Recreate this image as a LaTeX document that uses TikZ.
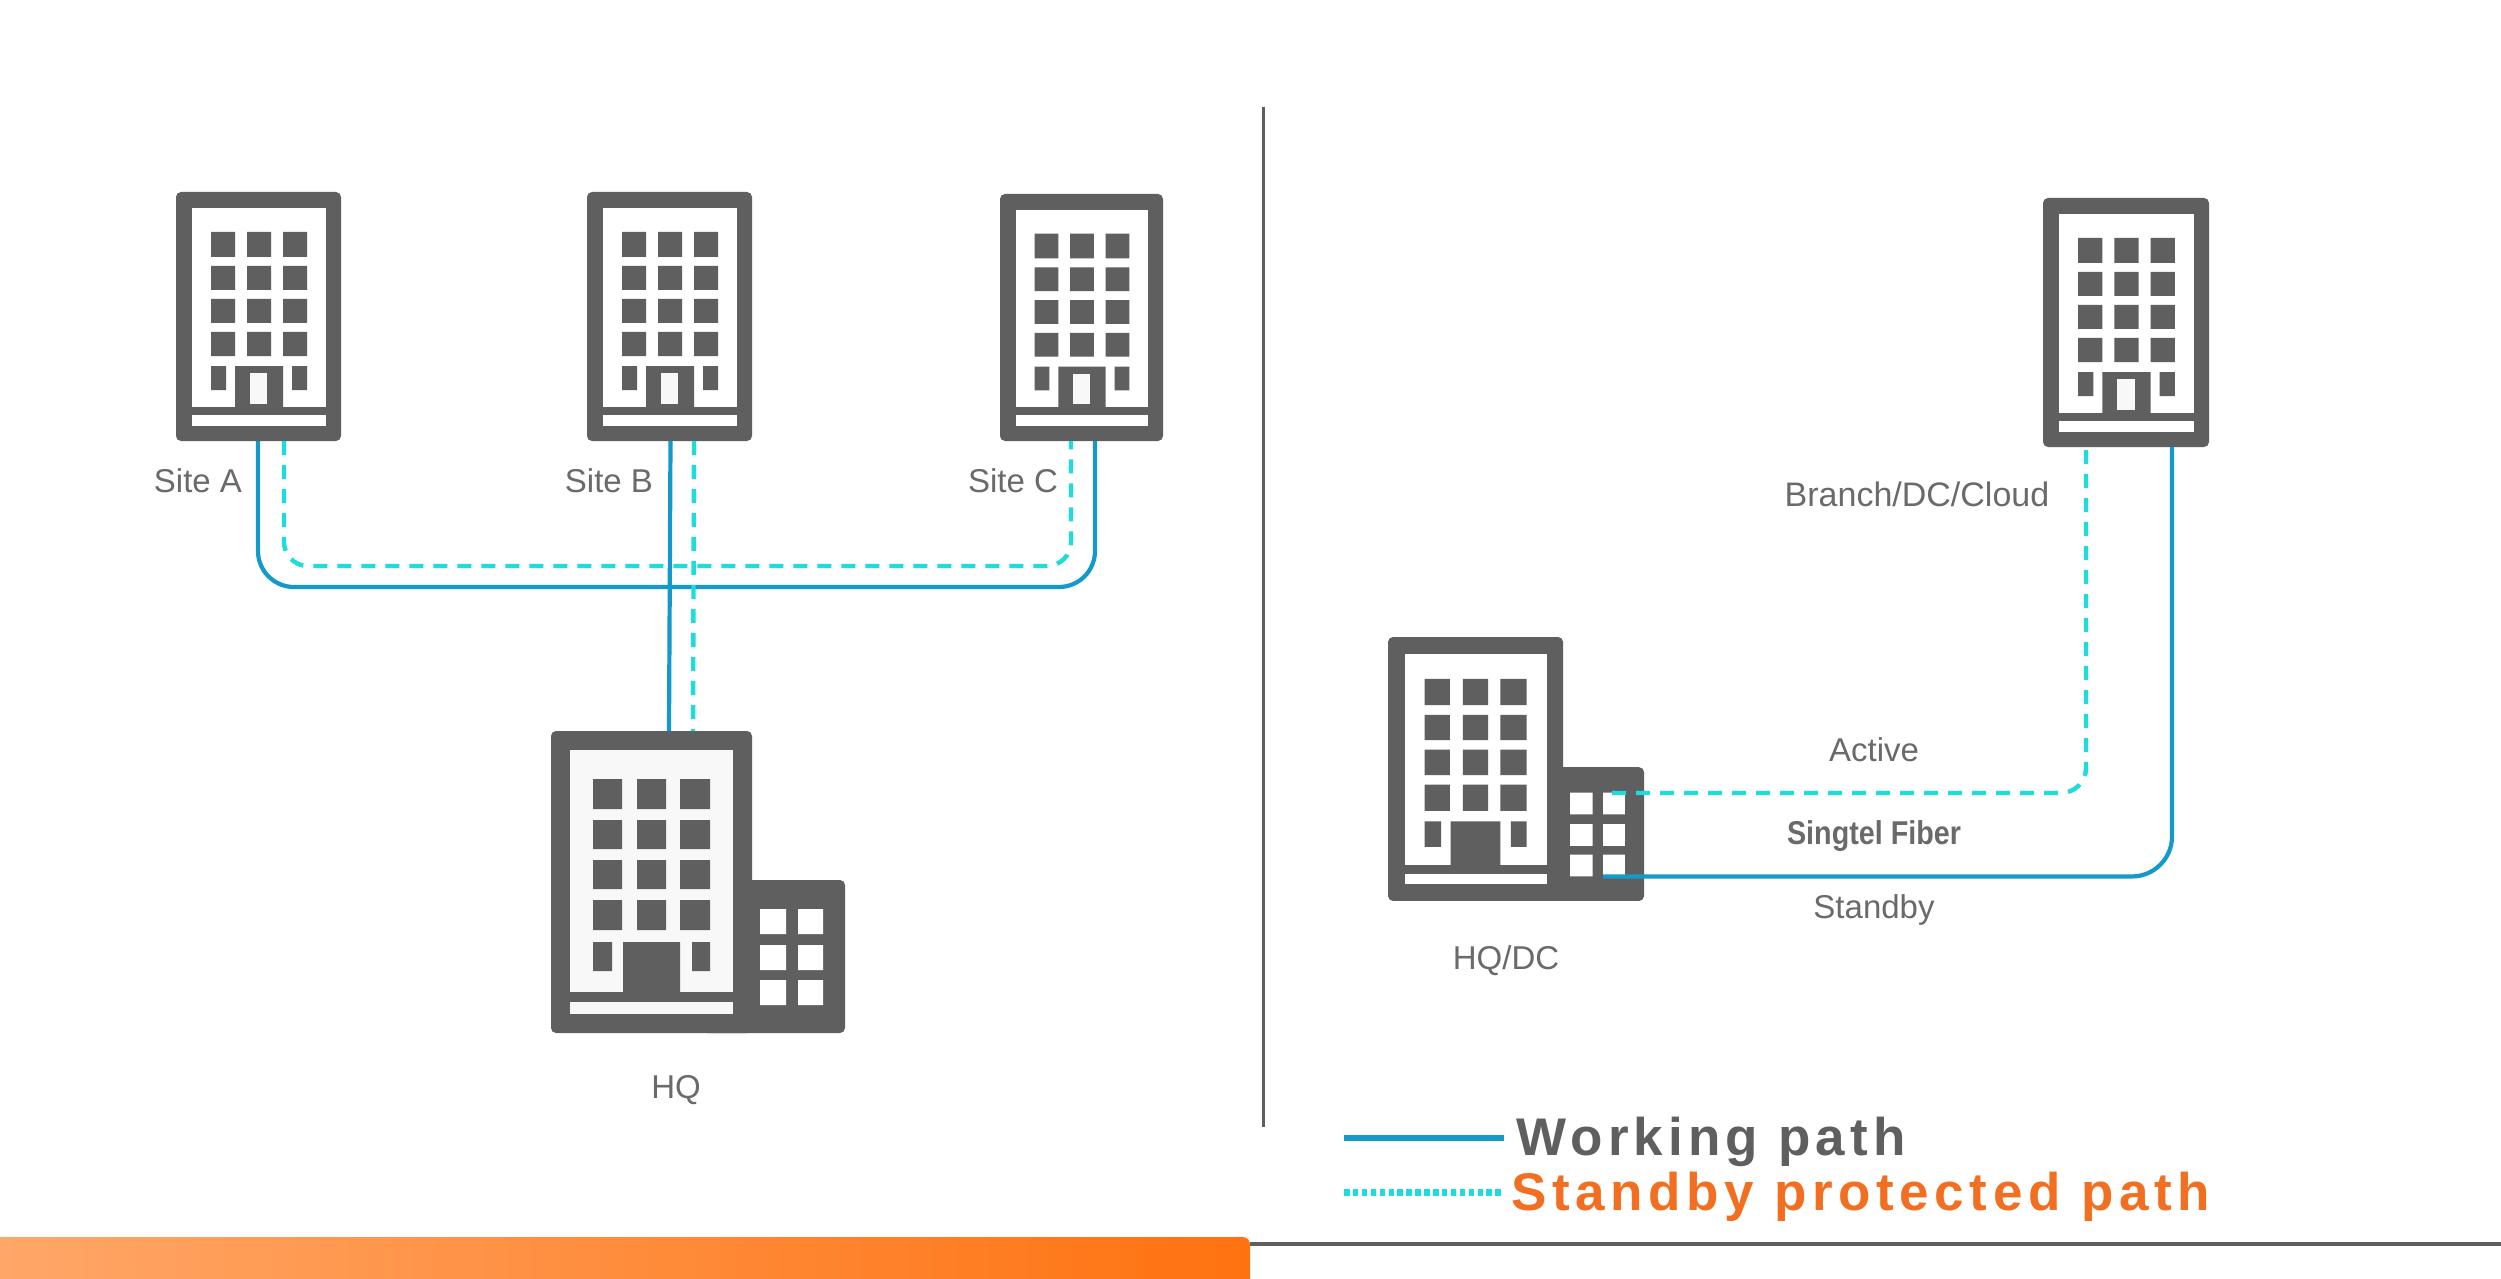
\documentclass[tikz,border=0pt]{standalone}
\usepackage{fontspec}
\setmainfont{Liberation Sans}
\newfontfamily\legendfonta[LetterSpace=9.8]{Liberation Sans Bold}
\newfontfamily\legendfontb[LetterSpace=10.6]{Liberation Sans Bold}
\definecolor{bgray}{HTML}{5F5F5F}
\definecolor{tgray}{HTML}{6A6A6A}
\definecolor{fillw}{HTML}{F8F8F8}
\definecolor{wpath}{HTML}{1499CB}
\definecolor{spath}{HTML}{1FDCDC}
\definecolor{otext}{HTML}{F26F21}
\definecolor{obarl}{HTML}{FFA768}
\definecolor{obarr}{HTML}{FF7210}
\tikzset{
  blk/.style={inner sep=0pt,outer sep=0pt,fill=bgray,anchor=north west,rounded corners=5pt},
  lbl/.style={anchor=base,inner sep=0pt,text=tgray,font=\fontsize{33}{36}\selectfont},
  working/.style={draw=wpath,line width=4.2pt,rounded corners=#1},
  working/.default=0pt,
  standby/.style={draw=spath,line width=4.4pt,dash pattern=on 14pt off 10pt,rounded corners=#1},
  standby/.default=0pt
}
% name, x, y, w, h
\newcommand{\towerbld}[5]{%
  \node[blk,minimum width=#4pt,minimum height=#5pt] (#1) at (#2,#3) {};
  \begin{scope}[shift={(#2,#3)},x=#4/165*1pt,y=-#5/249*1pt]
    \fill[white] (15.7,16) rectangle (149.7,215);
    \fill[white] (15.7,223) rectangle (149.7,234);
    \fill[bgray]
      (35,40) rectangle (59,65) (71,40) rectangle (95,65) (107,40) rectangle (131,65)
      (35,74) rectangle (59,98) (71,74) rectangle (95,98) (107,74) rectangle (131,98)
      (35,107) rectangle (59,131) (71,107) rectangle (95,131) (107,107) rectangle (131,131)
      (35,140) rectangle (59,164) (71,140) rectangle (95,164) (107,140) rectangle (131,164)
      (35,174) rectangle (50,198) (116,174) rectangle (131,198)
      (59,174) rectangle (107,215);
    \fill[fillw] (74,181) rectangle (91,212);
  \end{scope}}
% name, x, y, sx, sy, inner colour
\newcommand{\hqbld}[6]{%
  \node[blk,minimum width=#4*201pt,minimum height=#5*302pt] (#1) at (#2,#3) {};
  \begin{scope}[shift={(#2,#3)},x=#4*1pt,y=-#5*1pt]
    \node[blk,minimum width=#4*143pt,minimum height=#5*153pt] (#1x) at (151,149) {};
    \fill[bgray] (190,149) rectangle (210,302);
    \fill[#6] (19,19) rectangle (182,261);
    \fill[#6] (19,271) rectangle (182,283);
    \fill[bgray]
      (42,48) rectangle (71,78) (86,48) rectangle (115,78) (129,48) rectangle (159,78)
      (42,89) rectangle (71,118) (86,89) rectangle (115,118) (129,89) rectangle (159,118)
      (42,129) rectangle (71,158) (86,129) rectangle (115,158) (129,129) rectangle (159,158)
      (42,169) rectangle (71,199) (86,169) rectangle (115,199) (129,169) rectangle (159,199)
      (42,211) rectangle (61,240) (141,211) rectangle (159,240)
      (72,211) rectangle (129,261);
    \fill[white]
      (209,178) rectangle (235,203) (247,178) rectangle (272,203)
      (209,214) rectangle (235,239) (247,214) rectangle (272,239)
      (209,249) rectangle (235,274) (247,249) rectangle (272,274);
  \end{scope}}
\begin{document}
\begin{tikzpicture}[x=1pt,y=-1pt]
\useasboundingbox (0,0) rectangle (2501,1278.5);
\fill[white] (0,0) rectangle (2501,1278.5);
% bottom bar and rule
\coordinate (ruleL) at (1250,1243.5);
\coordinate (ruleR) at (2501,1243.5);
\draw[bgray,line width=4pt] (ruleL) -- (ruleR);
\path[left color=obarl,right color=obarr]
  (0,1237) -- (1242,1237) .. controls (1247,1237) and (1250,1240) .. (1250,1245) -- (1250,1285) -- (0,1285) -- cycle;
% divider
\coordinate (divT) at (1263,107);
\coordinate (divB) at (1263,1127);
\draw[bgray,line width=3pt] (divT) -- (divB);
% buildings
\towerbld{sA}{176}{192}{165}{249}
\towerbld{sB}{587}{192}{165}{249}
\towerbld{sC}{1000}{194}{163}{247}
\towerbld{bR}{2043}{198}{166}{249}
\hqbld{hq}{551}{731}{1}{1}{fillw}
\hqbld{dc}{1388}{637}{0.871}{0.874}{white}
% left connectors
\draw[working=36pt] ([xshift=-0.5pt]sA.south) -- ++(0,146) -| ([xshift=13.5pt]sC.south);
\draw[standby=24pt] ([xshift=25.5pt]sA.south) -- ++(0,125) -| ([xshift=-10.5pt]sC.south);
\draw[working] ([xshift=1pt]sB.south) -- ([xshift=17.5pt]hq.north);
\draw[standby] ([xshift=24.5pt]sB.south) -- ([xshift=41.5pt]hq.north);
% right connectors
\draw[working=40pt] ([xshift=-41pt,yshift=24.5pt]dcx.south east) -| ([xshift=46pt]bR.south);
\draw[standby=25pt] ([xshift=-32pt,yshift=108pt]dcx.south east) -| ([xshift=-40pt]bR.south);
% labels
\node[lbl] (tA) at (198,492) {Site A};
\node[lbl] (tB) at (609,492) {Site B};
\node[lbl] (tC) at (1013,492) {Site C};
\node[lbl] (tH) at (676,1098) {HQ};
\node[lbl,font=\fontsize{34}{37}\selectfont] (tBr) at (1917,506) {Branch/DC/Cloud};
\node[lbl] (tAc) at (1874,761) {Active};
\node[lbl,font=\fontsize{33}{36}\selectfont\bfseries,xscale=.87] (tSF) at (1874,844) {Singtel Fiber};
\node[lbl] (tSb) at (1874,918) {Standby};
\node[lbl] (tDC) at (1506,969) {HQ/DC};
% legend
\coordinate (l1a) at (1344,1138); \coordinate (l1b) at (1504,1138);
\coordinate (l2a) at (1344,1192); \coordinate (l2b) at (1504,1192);
\draw[wpath,line width=6pt] (l1a) -- (l1b);
\draw[spath,line width=7pt,dash pattern=on 5.5pt off 3.4pt] (l2a) -- (l2b);
\node[anchor=base west,inner sep=0pt,text=bgray,font=\fontsize{53}{56}\legendfonta] (lg1) at (1516,1155) {Working path};
\node[anchor=base west,inner sep=0pt,text=otext,font=\fontsize{53}{56}\legendfontb] (lg2) at (1511,1210) {Standby protected path};
\end{tikzpicture}
\end{document}
